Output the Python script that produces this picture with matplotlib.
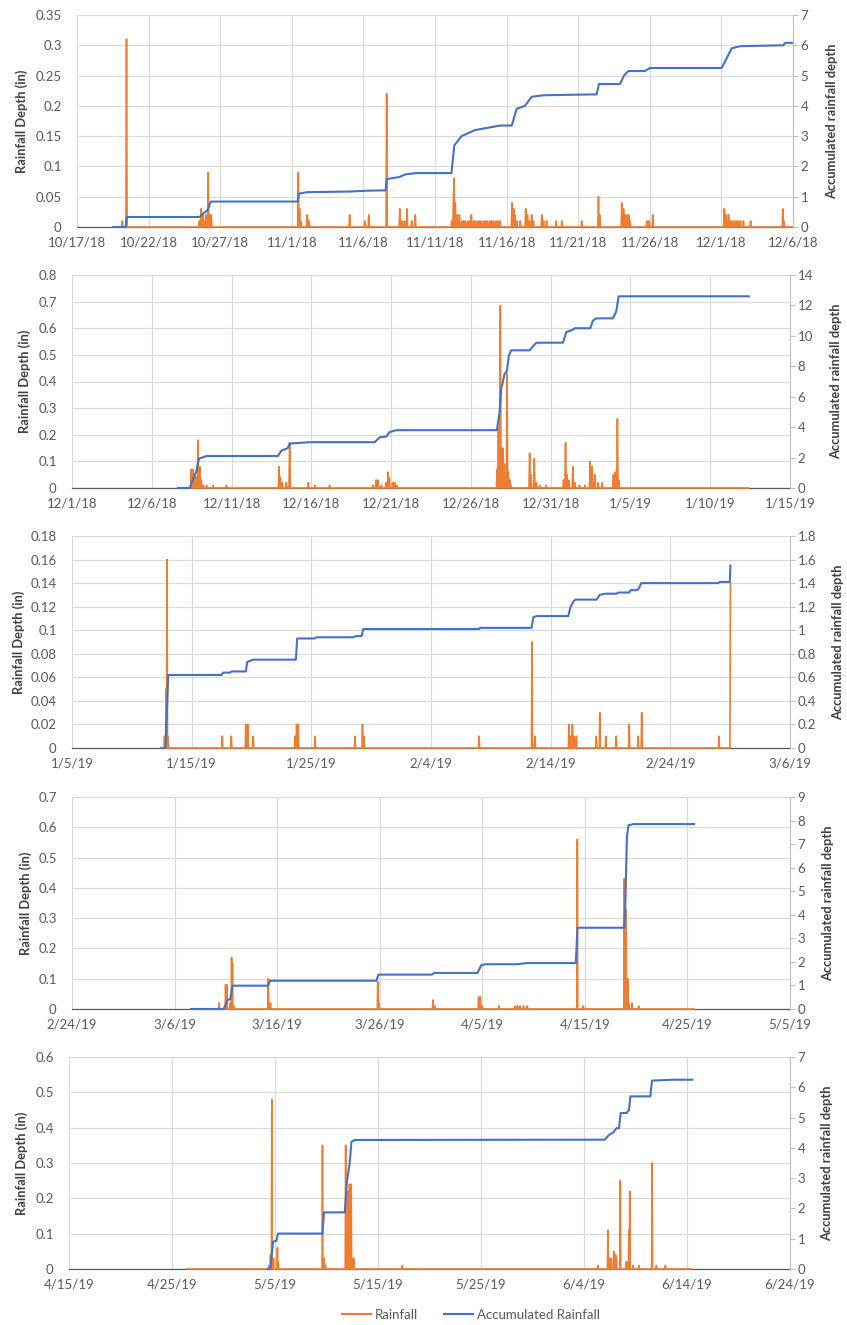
import numpy as np
import pandas as pd
import matplotlib
matplotlib.use("Agg")
import matplotlib.pyplot as plt
import matplotlib.dates as mdates
from matplotlib.lines import Line2D

plt.rcParams['font.family'] = ['Lato', 'DejaVu Sans']

ORANGE = '#ED7D31'
BLUE = '#4472C4'
GRID = '#D9D9D9'
TEXT = '#595959'
LABEL = '#404040'

# Times are days after each panel's start date.
# Rainfall readings are (time, depth in), accumulated is (time, depth).

# ---- panel 1
p1_start, p1_end, p1_step = '2018-10-17', '2018-12-06', 5
p1_span = (2.54, 50.0)
p1_rain = [
    (3.17, 0.01), (3.45, 0.31), (8.54, 0.01), (8.66, 0.03), (8.77, 0.02), (8.89, 0.01),
    (8.98, 0.02), (9.05, 0.01), (9.15, 0.09), (9.24, 0.02), (9.36, 0.02),
    (15.46, 0.09), (15.53, 0.03), (15.62, 0.01), (16.08, 0.02), (16.22, 0.01), (19.02, 0.02),
    (20.13, 0.01), (20.37, 0.02), (21.63, 0.22), (22.56, 0.03), (22.70, 0.01), (22.88, 0.01),
    (23.02, 0.03), (23.39, 0.01), (23.62, 0.02),
    (26.17, 0.01), (26.29, 0.05), (26.35, 0.08), (26.42, 0.04), (26.52, 0.02), (26.70, 0.02),
    (26.86, 0.01), (27.00, 0.01), (27.14, 0.01), (27.28, 0.01), (27.42, 0.01), (27.56, 0.02),
    (27.70, 0.01), (27.84, 0.01), (27.98, 0.01), (28.12, 0.01), (28.26, 0.01), (28.40, 0.01),
    (28.54, 0.01), (28.68, 0.01), (28.82, 0.01), (28.96, 0.01), (29.10, 0.01), (29.24, 0.01),
    (29.38, 0.01), (29.52, 0.01),
    (30.36, 0.04), (30.48, 0.03), (30.59, 0.02), (30.71, 0.01), (30.94, 0.01), (31.32, 0.03),
    (31.46, 0.02), (31.60, 0.01), (31.76, 0.02), (31.88, 0.01), (32.46, 0.02), (32.58, 0.01),
    (32.81, 0.01), (33.46, 0.01), (33.86, 0.01), (35.25, 0.01),
    (36.42, 0.05), (36.49, 0.02), (38.05, 0.04), (38.17, 0.03), (38.28, 0.02), (38.40, 0.02),
    (38.52, 0.02), (38.63, 0.01), (39.80, 0.01), (39.94, 0.01), (40.22, 0.02),
    (45.20, 0.03), (45.34, 0.02), (45.50, 0.02), (45.62, 0.01), (45.76, 0.01), (45.90, 0.01),
    (46.04, 0.01), (46.18, 0.01), (46.32, 0.01), (46.55, 0.01), (47.06, 0.01), (49.27, 0.03),
    (49.39, 0.01),
]
p1_acc = [
    (2.54, 0), (3.40, 0), (3.47, 0.33), (8.55, 0.33), (8.75, 0.42), (9.10, 0.55), (9.35, 0.84),
    (15.40, 0.84), (15.50, 1.10), (16.05, 1.15), (19.00, 1.17), (20.35, 1.20), (21.55, 1.21),
    (21.62, 1.58), (22.50, 1.65), (22.95, 1.74), (23.70, 1.78), (26.15, 1.78), (26.35, 2.70),
    (26.86, 3.00), (27.79, 3.20), (28.96, 3.30), (29.54, 3.35), (30.36, 3.35), (30.70, 3.90),
    (31.28, 4.00), (31.75, 4.30), (32.56, 4.35), (36.29, 4.38), (36.45, 4.72), (37.92, 4.72),
    (38.20, 5.00), (38.50, 5.15), (39.66, 5.15), (40.01, 5.25), (45.02, 5.25), (45.72, 5.90),
    (46.30, 5.97), (49.32, 6.00), (49.45, 6.08), (50.0, 6.08),
]

# ---- panel 2
p2_start, p2_end, p2_step = '2018-12-01', '2019-01-15', 5
p2_span = (6.64, 42.42)
p2_rain = [
    (7.48, 0.07), (7.58, 0.07), (7.69, 0.05), (7.79, 0.04), (7.90, 0.18), (8.00, 0.08),
    (8.11, 0.03), (8.21, 0.01), (8.42, 0.01), (8.83, 0.01), (9.67, 0.01),
    (12.97, 0.08), (13.06, 0.04), (13.18, 0.02), (13.43, 0.02), (13.64, 0.17), (14.79, 0.02),
    (15.21, 0.01), (16.15, 0.01),
    (18.86, 0.01), (19.07, 0.03), (19.17, 0.03), (19.39, 0.01), (19.70, 0.02), (19.80, 0.06),
    (19.91, 0.04), (20.08, 0.02), (20.22, 0.02), (20.36, 0.01),
    (26.63, 0.07), (26.72, 0.23), (26.80, 0.28), (26.86, 0.685), (26.94, 0.15), (27.00, 0.15),
    (27.11, 0.09), (27.17, 0.05), (27.28, 0.43), (27.34, 0.06), (27.42, 0.03), (27.53, 0.01),
    (28.68, 0.13), (28.78, 0.05), (28.99, 0.11), (29.10, 0.02), (29.30, 0.01), (29.72, 0.01),
    (30.81, 0.03), (30.93, 0.17), (31.02, 0.05), (31.14, 0.03), (31.39, 0.08), (31.50, 0.02),
    (31.81, 0.01), (32.12, 0.01), (32.48, 0.10), (32.60, 0.08), (32.75, 0.05), (32.96, 0.02),
    (33.23, 0.02), (33.94, 0.05), (34.05, 0.06), (34.17, 0.26), (34.27, 0.03),
]
p2_acc = [
    (6.64, 0), (7.37, 0), (7.79, 1.1), (7.96, 1.93), (8.42, 2.10), (12.91, 2.10), (13.12, 2.45),
    (13.53, 2.63), (13.64, 2.92), (14.89, 3.01), (18.97, 3.01), (19.28, 3.33), (19.70, 3.38),
    (19.91, 3.68), (20.33, 3.80), (26.63, 3.80), (26.80, 5.0), (26.90, 6.5), (27.11, 7.5),
    (27.26, 7.7), (27.38, 8.7), (27.53, 9.05), (28.68, 9.05), (28.89, 9.3), (29.10, 9.55),
    (30.77, 9.55), (30.98, 10.25), (31.39, 10.4), (31.50, 10.5), (32.48, 10.5), (32.65, 11.0),
    (32.86, 11.15), (33.90, 11.15), (34.11, 11.6), (34.26, 12.6), (42.42, 12.6),
]

# ---- panel 3
p3_start, p3_end, p3_step = '2019-01-05', '2019-03-06', 10
p3_span = (7.48, 55.03)
p3_rain = [
    (7.71, 0.01), (7.85, 0.05), (7.94, 0.16), (8.04, 0.01), (12.58, 0.01), (13.33, 0.01),
    (14.53, 0.02), (14.67, 0.02), (15.14, 0.01), (18.65, 0.01), (18.76, 0.02), (18.90, 0.02),
    (20.30, 0.01), (23.64, 0.01), (24.28, 0.02), (24.39, 0.01), (34.03, 0.01), (38.43, 0.09),
    (38.68, 0.01), (41.52, 0.02), (41.66, 0.01), (41.83, 0.02), (41.94, 0.01), (42.16, 0.01),
    (43.83, 0.01), (44.11, 0.03), (44.61, 0.01), (45.50, 0.01), (46.56, 0.02), (47.31, 0.01),
    (47.59, 0.03), (54.08, 0.01), (55.03, 0.14),
]
p3_acc = [
    (7.48, 0), (7.82, 0), (8.04, 0.62), (12.50, 0.62), (12.63, 0.64), (13.19, 0.64),
    (13.33, 0.65), (14.53, 0.65), (14.64, 0.73), (15.14, 0.75), (18.71, 0.75), (18.82, 0.93),
    (20.30, 0.93), (20.44, 0.94), (23.50, 0.94), (23.72, 0.95), (24.20, 0.95), (24.34, 1.01),
    (34.03, 1.01), (34.10, 1.02), (38.40, 1.02), (38.55, 1.11), (38.82, 1.12), (41.47, 1.12),
    (41.66, 1.20), (41.94, 1.25), (42.10, 1.26), (43.83, 1.26), (44.10, 1.30), (44.55, 1.31),
    (45.50, 1.31), (45.64, 1.32), (46.57, 1.32), (46.68, 1.34), (47.22, 1.34), (47.40, 1.36),
    (47.57, 1.40), (54.00, 1.40), (54.14, 1.41), (54.97, 1.41), (55.02, 1.55),
]

# ---- panel 4
p4_start, p4_end, p4_step = '2019-02-24', '2019-05-05', 10
p4_span = (11.6, 60.65)
p4_rain = [
    (14.36, 0.02), (14.97, 0.08), (15.11, 0.08), (15.43, 0.02), (15.56, 0.17), (15.65, 0.15),
    (15.75, 0.01), (19.16, 0.10), (19.33, 0.02), (29.79, 0.09), (29.92, 0.02), (35.18, 0.03),
    (35.34, 0.01), (39.63, 0.04), (39.79, 0.04), (39.96, 0.01), (41.58, 0.01), (43.21, 0.01),
    (43.44, 0.01), (43.70, 0.01), (44.02, 0.01), (44.41, 0.01), (49.28, 0.56), (49.86, 0.01),
    (53.86, 0.43), (54.00, 0.33), (54.19, 0.10), (54.32, 0.02), (54.61, 0.02), (55.26, 0.01),
]
p4_acc = [
    (11.60, 0), (14.78, 0), (15.20, 0.39), (15.43, 0.42), (15.65, 0.99), (19.10, 0.99),
    (19.33, 1.20), (29.66, 1.20), (29.88, 1.46), (35.09, 1.46), (35.31, 1.53), (39.53, 1.53),
    (39.89, 1.85), (40.28, 1.90), (43.37, 1.90), (44.35, 1.95), (49.12, 1.95), (49.28, 3.45),
    (53.83, 3.45), (53.93, 4.20), (54.10, 7.30), (54.25, 7.80), (54.74, 7.85), (60.65, 7.85),
]

# ---- panel 5
p5_start, p5_end, p5_step = '2019-04-15', '2019-06-24', 10
p5_span = (11.4, 60.52)
p5_rain = [
    (19.42, 0.01), (19.58, 0.04), (19.71, 0.48), (19.87, 0.03), (20.23, 0.06), (20.33, 0.02),
    (24.60, 0.35), (24.76, 0.03), (24.92, 0.01), (26.86, 0.35), (26.99, 0.10), (27.12, 0.22),
    (27.25, 0.24), (27.38, 0.24), (27.51, 0.03), (27.67, 0.03), (32.37, 0.01), (51.36, 0.01),
    (52.33, 0.11), (52.50, 0.03), (52.66, 0.03), (52.88, 0.05), (53.05, 0.04), (53.15, 0.03),
    (53.53, 0.25), (54.05, 0.02), (54.17, 0.02), (54.37, 0.11), (54.44, 0.22), (54.76, 0.01),
    (55.31, 0.01), (56.60, 0.30), (57.03, 0.01), (57.90, 0.01),
]
p5_acc = [
    (19.30, 0), (19.55, 0), (19.81, 0.90), (20.13, 0.93), (20.29, 1.17), (24.60, 1.17),
    (24.76, 1.87), (26.77, 1.87), (26.99, 2.90), (27.25, 3.50), (27.42, 4.20), (27.74, 4.26),
    (52.00, 4.27), (52.50, 4.45), (52.82, 4.50), (53.15, 4.65), (53.40, 4.65), (53.56, 5.15),
    (54.12, 5.15), (54.37, 5.25), (54.50, 5.70), (56.44, 5.70), (56.60, 6.22), (58.64, 6.25),
    (60.52, 6.25),
]

# y axes: (max, step) for rainfall and accumulated
p1_y, p1_y2 = (0.35, 0.05), (7, 1)
p2_y, p2_y2 = (0.8, 0.1), (14, 2)
p3_y, p3_y2 = (0.18, 0.02), (1.8, 0.2)
p4_y, p4_y2 = (0.7, 0.1), (9, 1)
p5_y, p5_y2 = (0.6, 0.1), (7, 1)

# plot boxes in pixels: left, top, right, bottom, left-label x, right-label x
W, H = 847, 1325
boxes = [
    (77, 15, 793, 227, 22, 832),
    (72, 275, 790, 488, 25, 836),
    (72, 536, 790, 748, 19, 838),
    (72, 797, 790, 1009, 26, 828),
    (69, 1057, 790, 1269, 22, 827),
]

panels = [
    (p1_start, p1_end, p1_step, p1_span, p1_rain, p1_acc, p1_y, p1_y2),
    (p2_start, p2_end, p2_step, p2_span, p2_rain, p2_acc, p2_y, p2_y2),
    (p3_start, p3_end, p3_step, p3_span, p3_rain, p3_acc, p3_y, p3_y2),
    (p4_start, p4_end, p4_step, p4_span, p4_rain, p4_acc, p4_y, p4_y2),
    (p5_start, p5_end, p5_step, p5_span, p5_rain, p5_acc, p5_y, p5_y2),
]


def fmt(v):
    return f"{round(v, 4):g}"


fig = plt.figure(figsize=(W / 100, H / 100), dpi=100)

for (start, end, step, span, rain, acc, yax, y2ax), box in zip(panels, boxes):
    left, top, right, bottom, lx, rx = box
    ax = fig.add_axes([left / W, 1 - bottom / H, (right - left) / W, (bottom - top) / H])
    ax2 = ax.twinx()
    x0 = mdates.date2num(pd.Timestamp(start))

    # hourly rainfall record, zero between the listed readings
    hours = np.arange(span[0], span[1] + 1e-6, 1 / 24)
    depth = np.zeros(len(hours))
    rt = np.array([r[0] for r in rain])
    rv = np.array([r[1] for r in rain])
    idx = np.clip(np.rint((rt - span[0]) * 24).astype(int), 0, len(hours) - 1)
    np.maximum.at(depth, idx, rv)
    ax.plot(x0 + hours, depth, color=ORANGE, lw=1.2, zorder=3, clip_on=False)

    at = np.array([a[0] for a in acc])
    av = np.array([a[1] for a in acc])
    ax2.plot(x0 + at, av, color=BLUE, lw=1.5, clip_on=False)

    # x axis
    ticks = pd.date_range(start, end, freq=f'{step}D')
    ax.set_xlim(mdates.date2num(pd.Timestamp(start)), mdates.date2num(pd.Timestamp(end)))
    ax.set_xticks(mdates.date2num(ticks))
    ax.set_xticklabels([f"{d.month}/{d.day}/{d.year % 100}" for d in ticks])

    # y axes
    ymax, ystep = yax
    yt = np.arange(0, ymax + ystep / 2, ystep)
    ax.set_ylim(0, ymax)
    ax.set_yticks(yt)
    ax.set_yticklabels([fmt(v) for v in yt])
    y2max, y2step = y2ax
    y2t = np.arange(0, y2max + y2step / 2, y2step)
    ax2.set_ylim(0, y2max)
    ax2.set_yticks(y2t)
    ax2.set_yticklabels([fmt(v) for v in y2t])

    ax.grid(True, color=GRID, lw=0.8)
    ax.set_axisbelow(True)
    for s in ['left', 'top', 'right']:
        ax.spines[s].set_visible(False)
    ax.spines['bottom'].set_color('#595959')
    ax.spines['bottom'].set_linewidth(0.9)
    for s in ['left', 'top', 'bottom']:
        ax2.spines[s].set_visible(False)
    ax2.spines['right'].set_color('#BFBFBF')
    ax2.spines['right'].set_linewidth(0.8)

    ax.tick_params(axis='both', length=0, labelcolor=TEXT, labelsize=9.5)
    ax.tick_params(axis='y', pad=11)
    ax.tick_params(axis='x', pad=7)
    ax2.tick_params(axis='y', length=3.5, width=0.8, color='#BFBFBF',
                    labelcolor=TEXT, labelsize=9.5, pad=2)

    yc = 1 - (top + bottom) / 2 / H
    fig.text(lx / W, yc, 'Rainfall Depth (in)', rotation=90, ha='center', va='center',
             fontsize=9.3, fontweight='bold', color=LABEL)
    fig.text(rx / W, yc, 'Accumulated rainfall depth', rotation=90, ha='center', va='center',
             fontsize=9.3, fontweight='bold', color=LABEL)

handles = [Line2D([], [], color=ORANGE, lw=1.5), Line2D([], [], color=BLUE, lw=1.5)]
fig.legend(handles, ['Rainfall', 'Accumulated Rainfall'], loc='center',
           bbox_to_anchor=(471 / W, 1 - 1315 / H), ncol=2, frameon=False,
           fontsize=9.5, labelcolor=TEXT, handlelength=2.2, handletextpad=0.3,
           columnspacing=2.0)

fig.savefig('out.png', dpi=100)
